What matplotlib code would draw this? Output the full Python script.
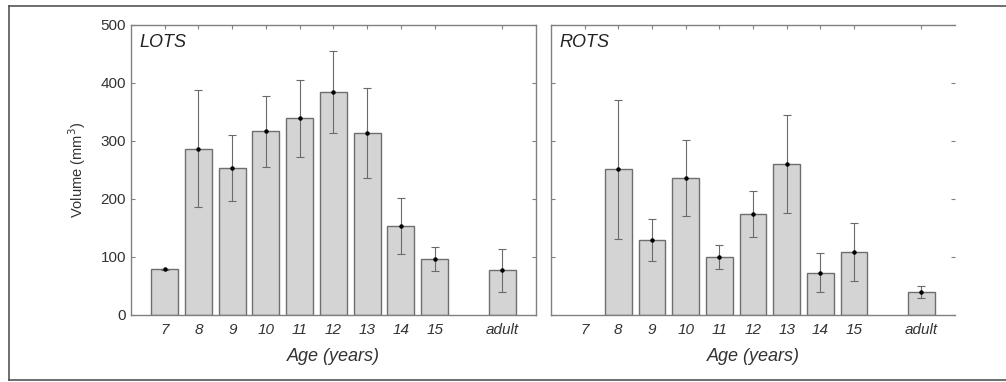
import matplotlib
matplotlib.use('Agg')
import matplotlib.pyplot as plt
from matplotlib.lines import Line2D

plt.rcParams['font.family'] = ['Liberation Sans', 'DejaVu Sans']

age_labels = ['7', '8', '9', '10', '11', '12', '13', '14', '15', 'adult']
positions = [7, 8, 9, 10, 11, 12, 13, 14, 15, 17]

lots_mean = [79, 287, 253, 317, 339, 384, 314, 153, 97, 77]
lots_err = [1, 101, 57, 61, 67, 71, 78, 48, 21, 37]

rots_mean = [0, 251, 129, 236, 100, 174, 260, 73, 109, 40]
rots_err = [0, 120, 36, 65, 21, 39, 85, 34, 50, 10]

bar_face = '#d4d4d4'
bar_edge = '#6e6e6e'
spine_col = '#808080'

fig = plt.figure(figsize=(10.06, 3.82), dpi=100)
ax_l = fig.add_axes([0.1302, 0.1754, 0.4026, 0.7592])
ax_r = fig.add_axes([0.5477, 0.1754, 0.4016, 0.7592])


def draw_panel(axis, means, errs, title):
    xs = [p for p, m in zip(positions, means) if m > 0]
    ms = [m for m in means if m > 0]
    es = [e for m, e in zip(means, errs) if m > 0]
    axis.bar(xs, ms, width=0.8, color=bar_face, edgecolor=bar_edge, linewidth=1.0, zorder=2)
    axis.errorbar(xs, ms, yerr=es, fmt='none', ecolor='#6a6a6a', elinewidth=0.8,
                  capsize=3, capthick=0.8, zorder=3)
    axis.plot(xs, ms, 'o', color='black', markersize=2.2, zorder=4)
    axis.set_xlim(6, 18)
    axis.set_ylim(0, 500)
    axis.set_xticks(positions)
    axis.set_xticklabels(age_labels, fontstyle='italic', fontsize=11, color='#333333')
    axis.set_yticks([0, 100, 200, 300, 400, 500])
    axis.tick_params(axis='x', which='both', bottom=False, top=True, direction='in',
                     length=3, color=spine_col, pad=6)
    axis.tick_params(axis='y', which='both', left=True, right=True, direction='in',
                     length=3, color=spine_col, labelsize=11, labelcolor='#333333')
    for s in axis.spines.values():
        s.set_color(spine_col)
        s.set_linewidth(1.0)
    axis.text(0.022, 0.94, title, transform=axis.transAxes, fontsize=13,
              fontstyle='italic', color='#222222', va='center', ha='left')
    axis.set_xlabel('Age (years)', fontstyle='italic', fontsize=13, color='#333333', labelpad=8)


draw_panel(ax_l, lots_mean, lots_err, 'LOTS')
draw_panel(ax_r, rots_mean, rots_err, 'ROTS')

ax_l.set_ylabel('Volume (mm$^3$)', fontsize=10.5, color='#333333', labelpad=9)
ax_r.set_yticklabels([])
ax_r.spines['right'].set_visible(False)

# outer frame
frame_kw = dict(color='#555555', linewidth=1.2, transform=fig.transFigure)
fig.add_artist(Line2D([0.0089, 1.0], [0.984, 0.984], **frame_kw))
fig.add_artist(Line2D([0.0089, 1.0], [0.0052, 0.0052], **frame_kw))
fig.add_artist(Line2D([0.0089, 0.0089], [0.0052, 0.984], **frame_kw))

plt.savefig('out.png', dpi=100)
